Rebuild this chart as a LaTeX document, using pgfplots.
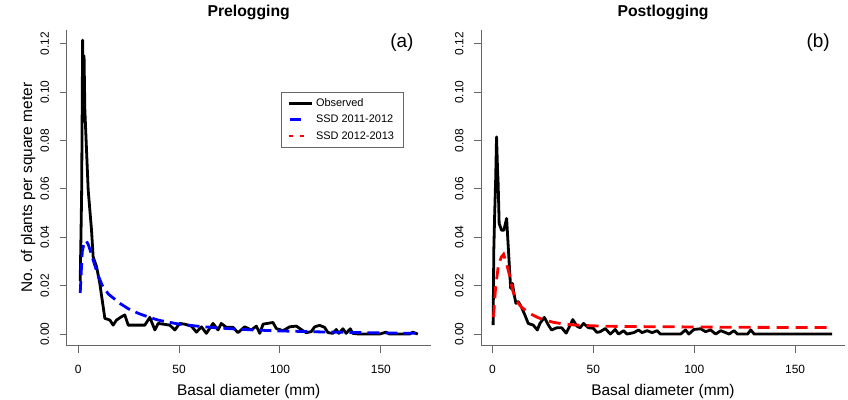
\documentclass[border=0pt]{standalone}
\usepackage{fontspec}
\setmainfont{Liberation Sans}
\usepackage{pgfplots}
\pgfplotsset{compat=1.18}
\definecolor{rblue}{RGB}{0,0,255}
\definecolor{rred}{RGB}{255,0,0}
\pgfplotsset{
 rstyle/.style={
  scale only axis, width=364bp, height=316bp,
  xmin=-5.7, xmax=174.7, ymin=-0.0048, ymax=0.1258,
  axis x line*=bottom, axis y line*=left,
  axis line style={black!60, line width=1bp},
  tick align=outside, major tick length=7bp,
  every tick/.style={black!60, line width=1bp},
  xtick={0,50,100,150}, xticklabels={0,50,100,150},
  ytick={0,0.02,0.04,0.06,0.08,0.10,0.12},
  yticklabels={0.00,0.02,0.04,0.06,0.08,0.10,0.12},
  ticklabel style={font=\fontsize{12}{14}\selectfont},
  xticklabel style={anchor=north, inner sep=0pt},
  yticklabel style={rotate=90, anchor=south, inner sep=0pt},
  xticklabel shift=12bp, yticklabel shift=10.4bp,
  xlabel={Basal diameter (mm)},
  xlabel style={font=\fontsize{15.5}{18}\selectfont, at={(axis description cs:0.5,-0.145)}, anchor=center},
  title style={font=\bfseries\fontsize{15.8}{18}\selectfont, at={(axis description cs:0.5,1)}, anchor=base, yshift=7bp},
 },
 obs/.style={black, line width=2.8bp, line join=round},
 bluleg/.style={legend image code/.code={\draw[rblue, line width=2.8bp] (1.7bp,0bp) -- (12.7bp,0bp);}},
 redleg/.style={legend image code/.code={\draw[rred, line width=2.8bp, dash pattern=on 4bp off 7.7bp] (0bp,0bp) -- (23bp,0bp);}},
}
\begin{document}
\begin{tikzpicture}
\path[use as bounding box] (0,0) rectangle (848bp,400bp);
\begin{axis}[rstyle, at={(66.7bp,54.3bp)}, anchor=south west,
  title={Prelogging},
  ylabel={No. of plants per square meter},
  ylabel style={font=\fontsize{15.5}{18}\selectfont, at={(axis description cs:-0.1063,0.5)}, anchor=center},
  legend style={at={(0.588,0.804)}, anchor=north west, draw=black!60, line width=0.8bp,
    font=\fontsize{11}{12}\selectfont, inner ysep=3.5bp, inner xsep=6bp,
    nodes={inner sep=3.1bp, text height=8bp, text depth=2bp}},
  legend cell align=left,
  legend image code/.code={\draw[#1] (0bp,0bp) -- (23bp,0bp);},
]
\addplot[obs] coordinates {
(1.0,0.022) (1.3,0.037) (1.7,0.058) (2.2,0.1215) (2.6,0.098) (2.9,0.115) (3.3,0.0926)
(4.95,0.0595) (6.6,0.043) (7.4,0.032) (9.1,0.0278) (10.7,0.021) (13.2,0.0065)
(15.7,0.0058) (17.3,0.0037) (19,0.0058) (21.5,0.0072) (23.1,0.0079) (24.8,0.0037)
(33,0.0037) (35.5,0.0069) (38,0.0017) (39.6,0.0044) (45.4,0.0037) (47.9,0.0017)
(50.3,0.0044) (52.8,0.0041) (56.1,0.0033) (58.6,0.0008) (61.1,0.003) (63.5,0.0003)
(66.8,0.0044) (69.3,0.0017) (70.9,0.0044) (73.4,0.0028) (76.7,0.0028) (79.2,0.0006)
(82.5,0.003) (85.8,0.0017) (88.3,0.0033) (90,0.0003) (91.6,0.0041) (96.5,0.0048)
(98.2,0.0023) (101.5,0.0014) (104.8,0.003) (108.1,0.0033) (111.4,0.0014) (113,0.0006)
(115.5,0.001) (117.2,0.003) (119.6,0.0036) (122.1,0.0028) (123.8,0.0006) (126.2,0.0003)
(127.9,0.0019) (129.2,0.0003) (131.2,0.0022) (132.8,0.0003) (134.8,0.0022) (136.1,0.0003)
(139.4,0) (149.3,0) (152.6,0.0008) (154.3,0) (164.2,0) (165.8,0.0008) (168.3,0)
};
\addlegendentry{Observed}
\addplot[rblue, line width=2.8bp, dash pattern=on 12bp off 6bp, bluleg] coordinates {
(1,0.017) (2,0.034) (3,0.038) (4,0.0385) (5,0.037) (6,0.0345) (8,0.029) (10,0.024)
(12,0.020) (15,0.0165) (18,0.0145) (21,0.0125) (25,0.0104) (30,0.0085) (35,0.0070)
(40,0.0057) (50,0.0041) (60,0.0032) (70,0.0025) (80,0.0020) (90,0.0016) (100,0.0013)
(120,0.0009) (140,0.0006) (168,0.0003)
};
\addlegendentry{SSD 2011-2012}
\addlegendimage{redleg}
\addlegendentry{SSD 2012-2013}
\node[font=\fontsize{19}{22}\selectfont] at (rel axis cs:0.921,0.958) {(a)};
\end{axis}
\begin{axis}[rstyle, at={(481bp,54.3bp)}, anchor=south west,
  title={Postlogging}]
\addplot[obs] coordinates {
(0.3,0.0037) (0.65,0.0347) (1.1,0.0505) (1.6,0.065) (2.0,0.0815) (2.5,0.068) (2.8,0.0623)
(3.3,0.0457) (4.5,0.0429) (5.6,0.0429) (7.0,0.0478) (7.8,0.0361) (9.0,0.0189) (9.9,0.0209)
(10.6,0.0169) (11.6,0.0127) (12.8,0.0134) (14.4,0.011) (16.1,0.0078) (17.7,0.0044)
(20.2,0.0037) (22.2,0.0017) (23.5,0.0044) (25.7,0.0069) (27.7,0.0037) (29.3,0.0017)
(31.8,0.0026) (34.3,0.0026) (36.5,0.0004) (38.5,0.0037) (39.8,0.006) (41.8,0.0033)
(43.4,0.0026) (45.1,0.0044) (47.6,0.0026) (50,0.0024) (51.7,0.0007) (53.4,0.001)
(55.9,0.0023) (58.4,0) (60.8,0.0019) (62.5,0) (65,0.0014) (66.6,0) (70,0.0006)
(72.4,0.0017) (74.1,0.0006) (76.6,0.0014) (79.1,0.0006) (81.6,0.0014) (83.2,0) (93.2,0)
(95.7,0.0017) (97.3,0) (99.8,0.0019) (103.1,0.0022) (105.6,0.001) (108.1,0.0017)
(110.6,0) (113.1,0.0014) (115.6,0.0006) (117.2,0) (119.7,0.0014) (121.4,0) (126.4,0)
(128,0.0017) (129.7,0) (168.3,0)
};
\addplot[rred, line width=2.8bp, dash pattern=on 12bp off 7bp] coordinates {
(0.5,0.007) (1.5,0.019) (3,0.029) (4.5,0.032) (5.5,0.033) (7,0.029) (8.5,0.024)
(10,0.018) (11,0.0155) (13,0.0125) (14.5,0.011) (17,0.0095) (19,0.0083) (22,0.007)
(25,0.006) (30,0.0049) (35,0.0042) (40,0.0038) (50,0.0034) (60,0.0032) (70,0.0031)
(90,0.003) (120,0.0028) (168,0.0027)
};
\node[font=\fontsize{19}{22}\selectfont] at (rel axis cs:0.926,0.958) {(b)};
\end{axis}
\end{tikzpicture}
\end{document}
